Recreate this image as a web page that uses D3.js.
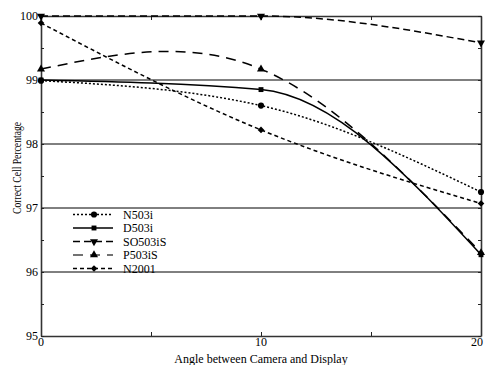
<!DOCTYPE html>
<html lang="en">
  <head>
    <meta charset="UTF-8" />
    <script src="https://d3js.org/d3.v7.min.js"></script>
    <title>Correct Cell Percentage vs Angle</title>
    <style type="text/css">
      body { margin: 0; background: #fff; }
      text { font-family: 'Liberation Serif', 'Times New Roman', serif; fill: #000; }
    </style>
  </head>
  <body>
    <svg width="485" height="365"></svg>
  </body>
  <script type="text/javascript">
    // data
    const angles = [0, 10, 20];
    const seriesNames = ['N503i', 'D503i', 'SO503iS', 'P503iS', 'N2001'];
    const n503i = [98.99, 98.6, 97.25];
    const d503i = [99.0, 98.85, 96.27];
    const so503is = [100, 100, 99.58];
    const p503is = [99.17, 99.17, 96.3];
    const n2001 = [99.89, 98.22, 97.07];
    const xTicks = [0, 10, 20];
    const yTicks = [95, 96, 97, 98, 99, 100];
    const gridValues = [96, 97, 98, 99];

    const values = [n503i, d503i, so503is, p503is, n2001];
    const dashes = ['2,2', null, '7,4', '10,7', '4,3'];
    // P503iS overshoots between its points, the others do not
    const curves = [d3.curveMonotoneX, d3.curveMonotoneX, d3.curveMonotoneX, d3.curveNatural, d3.curveMonotoneX];
    const symbols = [
      { type: d3.symbolCircle, size: 30, rotate: 0 },
      { type: d3.symbolSquare, size: 24, rotate: 0 },
      { type: d3.symbolTriangle, size: 28, rotate: 180 },
      { type: d3.symbolTriangle, size: 28, rotate: 0 },
      { type: d3.symbolSquare, size: 22, rotate: 45 },
    ];

    const series = seriesNames.map((name, i) => ({
      name,
      points: angles.map((a, j) => ({ x: a, y: values[i][j] })),
      dash: dashes[i],
      curve: curves[i],
      symbol: symbols[i],
    }));

    // setup svg canvas
    const svg = d3.select('svg');
    const margin = { top: 16, right: 4, bottom: 29, left: 41 };
    const width = +svg.attr('width');
    const height = +svg.attr('height');

    const xScale = d3.scaleLinear().domain([0, 20]).range([margin.left, width - margin.right]);
    const yScale = d3.scaleLinear().domain([95, 100]).range([height - margin.bottom, margin.top]);

    // clip for curves
    svg.append('defs').append('clipPath').attr('id', 'plot-clip')
      .append('rect')
      .attr('x', xScale(0))
      .attr('y', yScale(100) - 1)
      .attr('width', xScale(20) - xScale(0))
      .attr('height', yScale(95) - yScale(100) + 1);

    // grid lines
    svg.append('g')
      .selectAll('line')
      .data(gridValues)
      .join('line')
      .attr('x1', xScale(0))
      .attr('x2', xScale(20))
      .attr('y1', (d) => yScale(d))
      .attr('y2', (d) => yScale(d))
      .attr('stroke', '#000')
      .attr('stroke-width', 1);

    // axes with inward ticks, mirrored on top/right
    const styleAxis = (g) => {
      g.select('.domain').attr('stroke', '#333').attr('stroke-width', 1.6);
      g.selectAll('.tick line').attr('stroke', '#222').attr('stroke-width', 1);
    };

    const xMinor = d3.range(0, 21, 5);
    const yMinor = d3.range(95, 100.01, 0.5);

    svg.append('g')
      .attr('transform', `translate(0,${yScale(95)})`)
      .call(d3.axisBottom(xScale).tickValues(xMinor).tickSize(-4).tickSizeOuter(0).tickFormat(''))
      .call(styleAxis);
    svg.append('g')
      .attr('transform', `translate(0,${yScale(100)})`)
      .call(d3.axisTop(xScale).tickValues(xMinor).tickSize(-4).tickSizeOuter(0).tickFormat(''))
      .call(styleAxis);
    svg.append('g')
      .attr('transform', `translate(${xScale(0)},0)`)
      .call(d3.axisLeft(yScale).tickValues(yMinor).tickSize(-3).tickSizeOuter(0).tickFormat(''))
      .call(styleAxis);
    svg.append('g')
      .attr('transform', `translate(${xScale(20)},0)`)
      .call(d3.axisRight(yScale).tickValues(yMinor).tickSize(-3).tickSizeOuter(0).tickFormat(''))
      .call(styleAxis);

    // tick labels
    svg.append('g')
      .selectAll('text')
      .data(yTicks)
      .join('text')
      .attr('x', xScale(0) - 3)
      .attr('y', (d) => yScale(d))
      .attr('dy', '0.35em')
      .attr('text-anchor', 'end')
      .attr('font-size', '12px')
      .text((d) => d);

    svg.append('g')
      .selectAll('text')
      .data(xTicks)
      .join('text')
      .attr('x', (d) => xScale(d))
      .attr('dx', (d, i) => (i === xTicks.length - 1 ? -4 : 0))
      .attr('y', yScale(95) + 10)
      .attr('text-anchor', 'middle')
      .attr('font-size', '12px')
      .text((d) => d);

    // axis titles
    svg.append('text')
      .attr('x', (xScale(0) + xScale(20)) / 2)
      .attr('y', 363)
      .attr('text-anchor', 'middle')
      .attr('font-size', '12px')
      .text('Angle between Camera and Display');

    svg.append('text')
      .attr('transform', 'translate(21,168) rotate(-90)')
      .attr('text-anchor', 'middle')
      .attr('font-size', '12px')
      .attr('textLength', 92)
      .attr('lengthAdjust', 'spacingAndGlyphs')
      .text('Correct Cell Percentage');

    // curves
    const line = d3.line()
      .x((d) => xScale(d.x))
      .y((d) => yScale(d.y));

    svg.append('g')
      .attr('clip-path', 'url(#plot-clip)')
      .selectAll('path')
      .data(series)
      .join('path')
      .attr('d', (d) => line.curve(d.curve)(d.points))
      .attr('fill', 'none')
      .attr('stroke', '#000')
      .attr('stroke-width', 1.5)
      .attr('stroke-dasharray', (d) => d.dash);

    // markers
    const symbolPath = (s) => d3.symbol().type(s.type).size(s.size)();
    series.forEach((s) => {
      svg.append('g')
        .selectAll('path')
        .data(s.points)
        .join('path')
        .attr('transform', (d) => `translate(${xScale(d.x)},${yScale(d.y)}) rotate(${s.symbol.rotate})`)
        .attr('d', symbolPath(s.symbol))
        .attr('fill', '#000');
    });

    // legend
    const legend = svg.append('g').attr('transform', 'translate(73,214.5)');
    const rows = legend.selectAll('g')
      .data(series)
      .join('g')
      .attr('transform', (d, i) => `translate(0,${i * 13.5})`);
    rows.append('line')
      .attr('x1', 0)
      .attr('x2', 40)
      .attr('stroke', (d, i) => (i === 3 ? '#444' : '#000'))
      .attr('stroke-width', 1.5)
      .attr('stroke-dasharray', (d) => d.dash);
    rows.append('path')
      .attr('transform', (d) => `translate(21,0) rotate(${d.symbol.rotate})`)
      .attr('d', (d) => symbolPath(d.symbol))
      .attr('fill', '#000');
    rows.append('text')
      .attr('x', 50)
      .attr('dy', '0.35em')
      .attr('font-size', '12px')
      .text((d) => d.name);
  </script>
</html>
